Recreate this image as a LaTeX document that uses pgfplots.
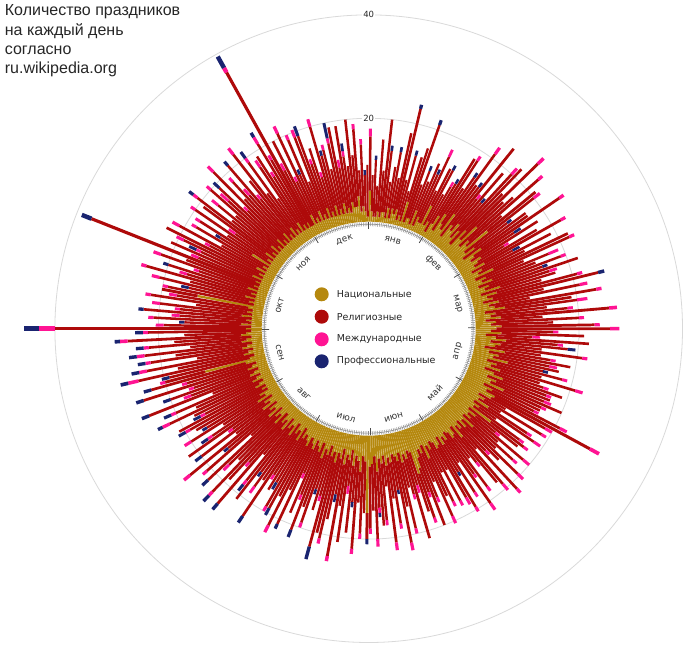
\documentclass[border=0pt]{standalone}
\usepackage{pgfplots}
\pgfplotsset{compat=1.18}
\usepackage{pgfplotstable}
\usepackage{fontspec}
\setmainfont{DejaVu Sans}
\newfontfamily\titlefont{Liberation Sans}
\definecolor{natc}{HTML}{B5880E}
\definecolor{relc}{HTML}{AE0A0A}
\definecolor{intc}{HTML}{FF1493}
\definecolor{proc}{HTML}{1A2470}

\pgfplotstableread{
d n r i p
0 6 10.5 1.5 0
1 2 7 0 0
2 1 11 0 0.8
3 1 6 0 0
4 2 14 0 0
5 1 9 0 0
6 2 18 0 0
7 2 12 0 1
8 1 7 0 0
9 3 8 0 0
10 1 13 0 1
11 3 6 0 0
12 2 16 0 0
13 3 20 0 0.8
14 1 8 0 0
15 2 12 0 1
16 1 6 0 0
17 5 9 0 0
18 1 15 0 0
19 2 19 0 1
20 2 7 0 0
21 1 11 0 1
22 4 6 0 0
23 1 13 0 0
24 3 9 0 1
25 2 14 1.5 0
26 2 7 0 0
27 6 8 0 0
28 2 12 0 1
29 3 6 0 0
30 1 10 1 0
31 3 9 0 1
32 5 13 0 0
33 2 16 1 0
34 6 6 0 0
35 4 11 0 1
36 3 18 1.5 0
37 7 7 0 0
38 2 12 0 1
39 5 19 0 0
40 4 8 1 0
41 6 13 0 0
42 3 9 0 1
43 5 15 1.5 0
44 2 20 0 0
45 6 10 0 0
46 4 21 1.5 0
47 8 7 0 0
48 3 14 0 0
49 5 18 1 0
50 4 9 0 0
51 9 12 0 0
52 3 17 1.5 0
53 5 8 0 1
54 2 15 0 0
55 6 11 0 0
56 4 20 1 0
57 3 10 0 1.5
58 5 13 0 0
59 4 6 1 0
60 3 14 0 0
61 5 17 1 0
62 2 9 0 1.5
63 4 15 0 0
64 3 10 0 0
65 6 16 0 0
66 2 20 1 0
67 4 8 0 0
68 3 14 2 0
69 5 9 0 0
70 2 17 1 0
71 4 11 0 1
72 3 19 0 0
73 6 10 1.5 0
74 2 15 0 0
75 5 9 0 0
76 3 18 1 0
77 4 21 0 1.2
78 2 12 0 0
79 5 16 1.5 0
80 3 8 0 0
81 4 20 1 0
82 6 13 0 0
83 2 18 2 0
84 4 10 0 0
85 3 15 1 0
86 5 21 1.5 0
87 2 11 0 0
88 4 16 1 0
89 3 12 0 0
90 5 18 1 0
91 4 22 1.8 0
92 3 12 1 0
93 5 16 0 0
94 2 9 1.5 0
95 4 18 0 0
96 6 10 1 0
97 3 15 0 1.5
98 5 8 0 0
99 4 17 1 0
100 2 11 0 0
101 6 9 1 0
102 3 16 0 0
103 5 10 1.5 0
104 4 13 0 0
105 7 7 0 1
106 3 15 1 0
107 5 9 0 0
108 4 17 1.5 0
109 6 8 0 0
110 3 12 1 0
111 5 14 0 0
112 7 9 1 0
113 4 13 0 0
114 6 10 1.5 0
115 5 15 0 0
116 8 8 1 0
117 4 12 0 0
118 6 9 1 0
119 5 16 1.5 0
120 7 21 2 0
121 6.5 12 1.5 0
122 4 6 0 0
123 5.5 13 1 0
124 4.5 5 0 0
125 7 9 1 0
126 4 14 1.5 0
127 5.5 4 0 0
128 4.5 11 1 0
129 9 8 1 0
130 4 12 0 0
131 6 5 1 0
132 4.5 14 1.5 0
133 5.5 7 0 0
134 4 13 1 0
135 7 6 0 0
136 4.5 15 1.5 0
137 6 9 0 0
138 4 8 1 0
139 5.5 16 1 0
140 4.5 6 0 0
141 7 12 1.5 0
142 4 14 0 0
143 5.5 7 1 0
144 6 5 0 0
145 4.5 13 1 0
146 4 10 0.8 0
147 5.5 15 1.5 0
148 4.5 6 0 0
149 6 11 1 0
150 4 8 0 0.8
151 5.5 14 1 0
152 6 11 1.5 0
153 4.5 6 0 0
154 4 13 1 0
155 5.5 5 0 0
156 4.5 12 1 0
157 7 8 0 0
158 4 15 1.5 0
159 5.5 6 0 0
160 4.5 10 1 0
161 6 14 0 0
162 8 5 1 0
163 9 9 1 0
164 4.5 12 0 0
165 4 7 1.5 0
166 5.5 16 0 0
167 4.5 8 1 0
168 6 5 0 0
169 4 15 1 0
170 5.5 9 0 0
171 4.5 17 1.5 0
172 4 7 0 0.8
173 5.5 12 1 0
174 4.5 8 0 0
175 6 15 1.5 0
176 4 6 0 0
177 5.5 11 1 0
178 4.5 13 0 0
179 7 7 1 0.8
180 4 16 1.5 0
181 5.5 9 0 0
182 6 12 1 0
183 15 5 0 1
184 5 10 0 0
185 4 15 1 0
186 7 6 0 0
187 5 17 1 0
188 4 9 0 1
189 6 13 0 0
190 3 7 1.5 0
191 5 16 0 0
192 4 10 0 0
193 6 18 1 0
194 3 9 0 1.5
195 5 12 0 0
196 4 17 1 0
197 6 14 0 0
198 4 19 0 2.5
199 5 8 1 0
200 3 13 0 0
201 5 7 0 1
202 4 15 1 0
203 6 10 0 0
204 3 18 0 1.5
205 5 9 1 0
206 4 14 0 0
207 3 7 1 0
208 5 16 0 1
209 4 10 0 0
210 3 19 1.5 0
211 5 11 0 0
212 4 15 0 1.5
213 3 16 1 0
214 4 10 0 1.5
215 2 14 0 0
216 5 8 1 0
217 3 20 0 1.5
218 4 11 0 0
219 2 15 1.5 0
220 5 9 0 1
221 3 18 0 0
222 4 13 1 1.5
223 2 9 0 0
224 5 19 0 1.5
225 3 11 1 0
226 4 15 0 0
227 2 21 1 1.5
228 5 10 0 0
229 3 14 1.5 0
230 4 18 0 1.5
231 2 8 0 0
232 5 16 1 0
233 3 12 0 1
234 4 20 1.5 0
235 2 10 0 0
236 5 15 0 1.5
237 3 9 1 0
238 4 18 0 0
239 2 14 1 1.5
240 5 8 0 0
241 3 17 1.5 0
242 4 12 0 1
243 2 16 0 0
244 3 16 1 1.5
245 2 19 0 0
246 4 11 1 1.5
247 3 14 0 0
248 2 20 1.5 1
249 4 12 0 0
250 3 17 1 1.5
251 2 10 0 0
252 4 21 0 1.5
253 3 13 1.5 0
254 2 18 0 1.5
255 4 11 1 0
256 3 22 0 1.5
257 2 14 1 0
258 4 19 0 1.5
259 12 8 1 0
260 3 16 0 1.5
261 2 23 2 1.5
262 4 13 0 0
263 3 20 1.5 1.5
264 2 11 0 0
265 4 18 1 1.5
266 3 14 0 0
267 2 21 1.5 1.5
268 4 10 0 0
269 3 19 1 1.5
270 2 15 0 0
271 4 22 1.5 1
272 3 12 0 0
273 2 20 1 1.5
274 3 37 3 2.9
275 2 17 1.5 0
276 4 11 0 1
277 2 19 1 0
278 3 13 1.5 0
279 2 21 0 1
280 4 12 1 0
281 2 18 1.5 0
282 3 10 0 0
283 2 20 1 0
284 3 14 1.5 0
285 13 7 0 0
286 2 17 1 0
287 3 12 0 1.5
288 2 19 1.5 0
289 4 11 0 0
290 2 22 1 0
291 3 13 1.5 0
292 2 18 0 1
293 4 10 1 0
294 2 20 1.5 0
295 3 14 0 0
296 2 35 0 2
297 3 12 1.5 0
298 2 19 0 0
299 4 11 1 1.5
300 2 17 1.5 0
301 3 20 0 0
302 2 12 1 0
303 4 17 1.5 0
304 2 10 0 0
305 3 15 1 0
306 2 11 0 1
307 6 12 1 0
308 2 10 0 0
309 3 17 1 0
310 2 9 1.5 0
311 4 15 0 0
312 2 19 1 1
313 3 10 0 0
314 2 15 1.5 0
315 4 9 0 0
316 2 18 1 0
317 3 13 2 0
318 2 17 0 1.5
319 4 8 1 0
320 2 20 1.5 0
321 3 11 0 0
322 2 16 1 0
323 4 10 1.5 0
324 2 19 0 1
325 3 9 1 0
326 2 14 0 0
327 4 18 1.5 0
328 2 10 0 0
329 3 16 1 1.5
330 2 8 0 0
331 4 13 1.5 0
332 2 17 0 0
333 3 11 1 0
334 2 19 1.5 1
335 3 14 1 0
336 2 34 1 2.5
337 2 12 1.5 0
338 4 16 0 0
339 2 9 1 0
340 3 18 1.5 0
341 2 10 0 1
342 4 15 1 0
343 2 8 0 0
344 3 16 1.5 0
345 2 17 0 2
346 4 9 1 0
347 2 14 0 0
348 3 7 1 0
349 2 18 1.5 0
350 4 10 0 1
351 2 13 1 0
352 3 8 0 0
353 2 14 1 3
354 4 15 0 0
355 2 9 1.5 0
356 3 16 0 0
357 2 11 1 1.5
358 4 7 0 0
359 3 17 0 0
360 3 10 0 0
361 5 13 1 0
362 2 8 0 0
363 3 12 1 0
364 2 7 0 1
365 1 10 0 0
}\hdata

\pgfplotstableread{
m z
0 0
31 0
60 0
91 0
121 0
152 0
182 0
213 0
244 0
274 0
305 0
335 0
}\mstart

\newcommand{\ang}{((\thisrow{d}+0.5)*360/366)}

\begin{document}
\begin{tikzpicture}
\begin{axis}[
  width=700pt, height=658pt, scale only axis,
  xmin=-368.7, xmax=331.3, ymin=-329.3, ymax=328.7,
  hide axis, clip=false,
  point meta min=0, point meta max=1000,
]
% full frame as bounding box
\path (rel axis cs:0,0) rectangle (rel axis cs:1,1);
% grid circles
\draw[black!15, line width=0.8pt] (axis cs:0,0) circle[radius=210.4];
\draw[black!15, line width=0.8pt] (axis cs:0,0) circle[radius=313.8];

% national
\addplot[natc, mark=none,
  point meta={107+5.17*\thisrow{n}/2},
  quiver={u={5.17*\thisrow{n}*sin(\ang)}, v={5.17*\thisrow{n}*cos(\ang)},
    every arrow/.append style={line width=0.016pt*\pgfplotspointmetatransformed}}]
  table[x expr={107*sin(\ang)}, y expr={107*cos(\ang)}] {\hdata};
% religious
\addplot[relc, mark=none,
  point meta={107+5.17*(\thisrow{n}+\thisrow{r}/2)},
  quiver={u={5.17*\thisrow{r}*sin(\ang)}, v={5.17*\thisrow{r}*cos(\ang)},
    every arrow/.append style={line width=0.0152pt*\pgfplotspointmetatransformed}}]
  table[x expr={(107+5.17*\thisrow{n})*sin(\ang)}, y expr={(107+5.17*\thisrow{n})*cos(\ang)}] {\hdata};
% international
\addplot[intc, mark=none,
  point meta={107+5.17*(\thisrow{n}+\thisrow{r}+\thisrow{i}/2)},
  quiver={u={5.17*\thisrow{i}*sin(\ang)}, v={5.17*\thisrow{i}*cos(\ang)},
    every arrow/.append style={line width=0.0146pt*\pgfplotspointmetatransformed}}]
  table[x expr={(107+5.17*(\thisrow{n}+\thisrow{r}))*sin(\ang)}, y expr={(107+5.17*(\thisrow{n}+\thisrow{r}))*cos(\ang)}] {\hdata};
% professional
\addplot[proc, mark=none,
  point meta={107+5.17*(\thisrow{n}+\thisrow{r}+\thisrow{i}+\thisrow{p}/2)},
  quiver={u={5.17*\thisrow{p}*sin(\ang)}, v={5.17*\thisrow{p}*cos(\ang)},
    every arrow/.append style={line width=0.0146pt*\pgfplotspointmetatransformed}}]
  table[x expr={(107+5.17*(\thisrow{n}+\thisrow{r}+\thisrow{i}))*sin(\ang)}, y expr={(107+5.17*(\thisrow{n}+\thisrow{r}+\thisrow{i}))*cos(\ang)}] {\hdata};

% inner ring with day ticks
\draw[black!45, line width=0.6pt] (axis cs:0,0) circle[radius=104.5];
\addplot[black!45, mark=none, line width=0.5pt,
  quiver={u={4*sin(\thisrow{d}*360/366)}, v={4*cos(\thisrow{d}*360/366)}}]
  table[x expr={102.5*sin(\thisrow{d}*360/366)}, y expr={102.5*cos(\thisrow{d}*360/366)}] {\hdata};
\addplot[black!70, mark=none, line width=0.8pt,
  quiver={u={7*sin(\thisrow{m}*360/366)}, v={7*cos(\thisrow{m}*360/366)}}]
  table[x expr={99.5*sin(\thisrow{m}*360/366)}, y expr={99.5*cos(\thisrow{m}*360/366)}] {\mstart};

% month labels
\begin{scope}[every node/.style={font=\fontsize{9}{10}\selectfont, text=black!80, inner sep=0pt}]
\node[rotate=-15.25] at (axis cs:{92*sin(15.25)},{92*cos(15.25)}) {янв};
\node[rotate=-44.75] at (axis cs:{92*sin(44.75)},{92*cos(44.75)}) {фев};
\node[rotate=-74.26] at (axis cs:{92*sin(74.26)},{92*cos(74.26)}) {мар};
\node[rotate=75.74] at (axis cs:{92*sin(104.26)},{92*cos(104.26)}) {апр};
\node[rotate=45.74] at (axis cs:{92*sin(134.26)},{92*cos(134.26)}) {май};
\node[rotate=15.74] at (axis cs:{92*sin(164.26)},{92*cos(164.26)}) {июн};
\node[rotate=-14.26] at (axis cs:{92*sin(194.26)},{92*cos(194.26)}) {июл};
\node[rotate=-44.75] at (axis cs:{92*sin(224.75)},{92*cos(224.75)}) {авг};
\node[rotate=-74.75] at (axis cs:{92*sin(254.75)},{92*cos(254.75)}) {сен};
\node[rotate=75.25] at (axis cs:{92*sin(284.75)},{92*cos(284.75)}) {окт};
\node[rotate=45.25] at (axis cs:{92*sin(314.75)},{92*cos(314.75)}) {ноя};
\node[rotate=15.25] at (axis cs:{92*sin(344.75)},{92*cos(344.75)}) {дек};
\end{scope}

% grid labels
\node[fill=white, inner sep=1pt, font=\fontsize{8.5}{9}\selectfont, text=black!85] at (axis cs:0,210.4) {20};
\node[fill=white, inner sep=1pt, font=\fontsize{8.5}{9}\selectfont, text=black!85] at (axis cs:0,313.8) {40};

% legend
\fill[natc] (axis cs:-47,34.4) circle[radius=7];
\fill[relc] (axis cs:-47,12) circle[radius=7];
\fill[intc] (axis cs:-47,-10.6) circle[radius=7];
\fill[proc] (axis cs:-47,-32.6) circle[radius=7];
\begin{scope}[every node/.style={anchor=west, inner sep=0pt, font=\fontsize{9.5}{11}\selectfont, text=black!85}]
\node at (axis cs:-32,34.4) {Национальные};
\node at (axis cs:-32,12) {Религиозные};
\node at (axis cs:-32,-10.6) {Международные};
\node at (axis cs:-32,-32.6) {Профессиональные};
\end{scope}

% title
\node[anchor=north west, align=left, inner sep=0pt, text=black!85,
  font=\titlefont\fontsize{16}{19.3}\selectfont] at (axis cs:-364,324)
  {Количество праздников\\на каждый день\\согласно\\ru.wikipedia.org};
\end{axis}
\end{tikzpicture}
\end{document}
